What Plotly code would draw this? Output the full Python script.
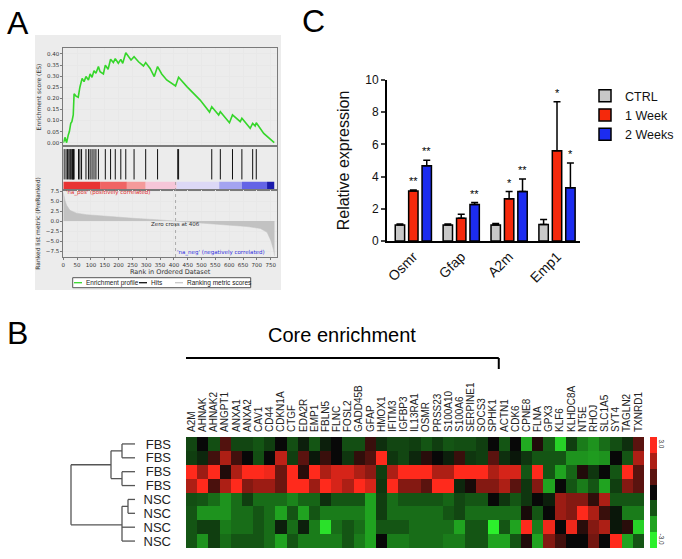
import plotly.graph_objects as go

W, H = 682, 559

# ---------------- panel A: GSEA enrichment plot ----------------
es_rank = [0, 2, 6, 12, 18, 22, 27, 31, 36, 39, 46, 54, 60, 68, 75, 82, 91, 97, 104, 111, 118,
           127, 133, 145, 152, 162, 171, 181, 188, 199, 208, 215, 226, 236, 245, 256, 272, 290,
           298, 314, 329, 341, 356, 374, 406, 417, 447, 495, 529, 537, 550, 562, 568, 601, 612,
           640, 646, 676, 685, 694, 698, 725, 763]
es_score = [0.0, 0.005, 0.024, 0.0, 0.035, 0.05, 0.087, 0.095, 0.125, 0.22, 0.21, 0.205, 0.25,
            0.29, 0.275, 0.298, 0.283, 0.31, 0.295, 0.325, 0.313, 0.343, 0.32, 0.31, 0.35, 0.331,
            0.376, 0.361, 0.379, 0.358, 0.376, 0.358, 0.406, 0.391, 0.373, 0.388, 0.365, 0.346,
            0.361, 0.335, 0.298, 0.343, 0.31, 0.283, 0.256, 0.295, 0.253, 0.192, 0.138, 0.162,
            0.14, 0.125, 0.14, 0.09, 0.125, 0.095, 0.11, 0.065, 0.087, 0.075, 0.09, 0.042, 0.0]
hit_ranks = [3, 10, 15, 20, 24, 27, 31, 33, 35, 37, 39, 55, 60, 66, 82, 91, 97, 104, 111, 118,
             127, 152, 171, 188, 208, 226, 256, 298, 341, 414, 417, 537, 568, 612, 646, 685, 698]
metric_rank = [0, 2, 6, 12, 24, 48, 85, 133, 193, 254, 338, 406, 447, 519, 592, 664, 713, 737,
               751, 757, 761, 764]
metric_score = [7.2, 6.5, 5.2, 4.0, 2.7, 2.0, 1.6, 1.35, 1.0, 0.7, 0.35, 0.0, -0.35, -0.7, -1.0,
                -1.35, -1.85, -2.8, -4.9, -6.2, -7.4, -8.7]
band_edges = [0, 133, 230, 298, 410, 564, 646, 737, 763]
band_colors = ['#e83434', '#f06464', '#f49a9a', '#f6c6d8', '#dcd8f6', '#a4a4f0', '#6464e6', '#1c1cac']
zero_cross = 406
legend_a_names = ['Enrichment profile', 'Hits', 'Ranking metric scores']
legend_a_colors = ['#35d62a', '#111111', '#c8c8c8']

# ---------------- panel C: qPCR bars ----------------
genes_c = ['Osmr', 'Gfap', 'A2m', 'Emp1']
ctrl_mean = [1.0, 1.0, 1.0, 1.02]
ctrl_err = [0.05, 0.06, 0.08, 0.32]
wk1_mean = [3.1, 1.42, 2.62, 5.6]
wk1_err = [0.06, 0.24, 0.45, 3.05]
wk2_mean = [4.67, 2.27, 3.08, 3.3]
wk2_err = [0.35, 0.12, 0.77, 1.55]
ctrl_sig = ['', '', '', '']
wk1_sig = ['**', '', '*', '*']
wk2_sig = ['**', '**', '**', '*']

# ---------------- panel B: heatmap ----------------
heat_genes = ['A2M', 'AHNAK', 'AHNAK2', 'ANGPT1', 'ANXA1', 'ANXA2', 'CAV1', 'CD44', 'CDKN1A',
              'CTGF', 'EDA2R', 'EMP1', 'FBLN5', 'FLNC', 'FOSL2', 'GADD45B', 'GFAP', 'HMOX1',
              'IFITM3', 'IGFBP3', 'IL13RA1', 'OSMR', 'PRSS23', 'S100A10', 'S100A6', 'SERPINE1',
              'SOCS3', 'SPHK1', 'ACTN1', 'CDK6', 'CPNE8', 'FLNA', 'GPX3', 'KLF6', 'KLHDC8A',
              'NT5E', 'RHOJ', 'SLC1A5', 'SYT4', 'TAGLN2', 'TXNRD1']
core_count = 28
row_labels = ['FBS', 'FBS', 'FBS', 'FBS', 'NSC', 'NSC', 'NSC', 'NSC']
fbs_1 = [-0.8, 0, -0.9, 0.9, -0.8, -0.8, -1.0, -0.7, 0, -0.9, -0.3, -1.0, -0.3, 0,
         -0.9, -0.9, 0.6, -0.5, -0.8, -0.8, -0.7, -1.0, -0.7, -1.0, -0.9, -0.9, -0.7, 0,
         -1.0, 0, -2.1, 0.3, -1.1, -2.6, -0.7, -1.5, -1.8, -1.3, -0.9, -0.5, 1.0]
fbs_2 = [-0.7, -0.4, 0.7, 2.0, 0.7, 0, -0.9, 0, 2.2, -0.7, 1.0, -0.2, 0.6, 0,
         -0.6, 0.5, 0.9, 3.0, -0.6, -0.8, -0.4, 0.4, 0, -0.3, 0.6, -0.6, -0.7, 1.0,
         -0.5, -0.2, -0.6, -1.0, -1.0, -1.0, -1.8, -1.8, -1.9, -1.8, 0, -1.0, 2.0]
fbs_3 = [3.0, 1.8, 3.0, 0.3, 2.0, 3.0, 3.0, 2.8, 1.2, 3.0, 0.4, 3.0, 2.0, 2.5,
         2.5, 2.0, 1.6, -0.7, 2.0, 3.0, 3.0, 3.0, 2.0, 2.0, 3.0, 3.0, 3.0, 2.0,
         2.5, 2.5, -1.0, 3.0, -1.0, -2.0, -1.2, 0.3, -0.6, 0, -1.0, 3.0, 1.0]
fbs_4 = [2.0, 3.0, 0.8, 2.0, 3.0, 1.5, 1.8, 1.8, 1.2, 3.0, 3.0, 1.8, 3.0, 2.5,
         2.0, 3.0, 2.5, -0.6, 3.0, 1.5, 1.5, 1.0, 3.0, 3.0, -0.4, 0.2, 1.5, 1.5,
         2.0, 1.0, -0.6, 1.5, -2.0, 0, -1.0, -1.5, -1.0, -2.0, -0.7, 1.5, 1.0]
nsc_1 = [-0.9, -1.0, -1.3, -1.8, -1.3, -0.7, -1.3, -1.3, -1.3, -1.6, -1.2, -1.2, -0.5, -1.0,
         -1.0, -1.0, -2.0, -0.7, -1.3, -1.0, -1.0, -1.0, -1.0, -1.2, -0.8, -1.0, -1.0, 0,
         -0.6, -1.0, -0.6, 0, -0.3, 1.8, 1.5, 1.5, 0.5, 2.0, -1.0, -1.0, -1.0]
nsc_2 = [-1.0, -1.8, -1.8, -1.8, -1.3, -1.3, -1.0, -1.3, -2.0, -1.0, -2.0, -1.0, -1.5, -1.5,
         -1.5, -1.5, -2.0, -0.7, -1.3, -1.3, -1.3, -1.3, -1.3, -1.0, -0.8, -1.3, -1.3, -1.3,
         -1.3, -1.3, 0.2, -1.0, 0, 1.8, 1.5, 3.0, 2.0, 0.6, -0.2, -1.5, -1.5]
nsc_3 = [-1.0, -0.7, -0.7, -1.5, -1.3, -1.3, -1.0, -1.3, -0.3, -1.3, -0.3, -1.5, -2.8, -1.3,
         -1.0, -1.3, -2.0, -1.0, -1.0, -1.0, -1.3, -1.3, -1.3, -1.3, -2.0, -1.0, -1.0, -3.0,
         -1.0, -2.0, 3.0, -1.5, 2.8, 0, 2.8, 0.4, 1.5, 2.0, -0.2, 0.4, -2.6]
nsc_4 = [-1.0, -1.8, -0.7, -1.3, -1.0, -1.0, -1.0, -1.3, -2.0, -1.0, -1.5, -1.5, -1.5, -1.5,
         -1.0, -1.5, -2.0, 0, -1.5, -1.5, -1.3, -1.3, -1.3, -1.5, -1.5, -1.0, -1.0, -2.0,
         -2.0, -1.0, 0.3, -2.0, 1.5, 0.7, 0, 0, 1.3, 0, 3.0, -2.0, -1.0]
cbar_levels = [3, 2, 1, 0, -1, -2, -3]
# dendrogram merges: (node, children, height)
dend_merges = [
    ('f12', ['r0', 'r1'], 13),
    ('f34', ['r2', 'r3'], 13),
    ('fbs', ['f12', 'f34'], 24),
    ('n12', ['r4', 'r5'], 7),
    ('nsc', ['n12', 'r6', 'r7'], 13),
    ('root', ['fbs', 'nsc'], 64),
]


def px(x):
    return x / W


def py(y):
    return 1 - y / H


GSEA_FONT = 'DejaVu Sans'
ARIAL = 'Liberation Sans, Arial'
heat_scale = [[0, '#2cf02c'], [0.5, '#080808'], [1, '#ff2a1c']]

fig = go.Figure()

# --- A
fig.add_trace(go.Scatter(x=es_rank, y=es_score, mode='lines', name=legend_a_names[0],
                         line=dict(color=legend_a_colors[0], width=1.6), showlegend=False,
                         xaxis='x', yaxis='y'))
hx, hy = [], []
for r in hit_ranks:
    hx += [r, r, None]
    hy += [0.24, 0.93, None]
fig.add_trace(go.Scatter(x=hx, y=hy, mode='lines', name=legend_a_names[1],
                         line=dict(color=legend_a_colors[1], width=1), showlegend=False,
                         xaxis='x2', yaxis='y2'))
fig.add_trace(go.Bar(orientation='h', y=[0.095] * len(band_colors),
                     x=[b - a for a, b in zip(band_edges[:-1], band_edges[1:])],
                     base=band_edges[:-1], width=0.19, marker=dict(color=band_colors, line_width=0),
                     showlegend=False, hoverinfo='skip', xaxis='x2', yaxis='y2'))
fig.add_trace(go.Scatter(x=metric_rank, y=metric_score, mode='lines', fill='tozeroy',
                         fillcolor='#c2c2c2', line=dict(color='#c2c2c2', width=0.5),
                         name=legend_a_names[2], showlegend=False, xaxis='x3', yaxis='y3'))

# --- C
for name, m, e, color in [('CTRL', ctrl_mean, ctrl_err, '#c8c8c8'),
                          ('1 Week', wk1_mean, wk1_err, '#f5290c'),
                          ('2 Weeks', wk2_mean, wk2_err, '#1c2cf0')]:
    fig.add_trace(go.Bar(x=genes_c, y=m, name=name,
                         marker=dict(color=color, line=dict(color='black', width=1.5)),
                         error_y=dict(type='data', array=e, arrayminus=[0] * len(e), symmetric=False,
                                      color='black', thickness=1.5, width=3.5),
                         xaxis='x4', yaxis='y4'))

bargap = 0.16
slot = (1 - bargap) / 3
annotations = []
for k, (m, e, sig) in enumerate([(ctrl_mean, ctrl_err, ctrl_sig), (wk1_mean, wk1_err, wk1_sig),
                                 (wk2_mean, wk2_err, wk2_sig)]):
    for i in range(len(genes_c)):
        if sig[i]:
            annotations.append(dict(x=i + (k - 1) * slot, y=m[i] + e[i], xref='x4', yref='y4',
                                    text=sig[i], showarrow=False, yanchor='bottom', yshift=1,
                                    font=dict(family=ARIAL, size=11, color='black')))

# --- B
fig.add_trace(go.Heatmap(z=[fbs_1, fbs_2, fbs_3, fbs_4, nsc_1, nsc_2, nsc_3, nsc_4],
                         x=list(range(len(heat_genes))), y=list(range(len(row_labels))),
                         colorscale=heat_scale, zmin=-3, zmax=3, showscale=False,
                         xaxis='x5', yaxis='y5'))
fig.add_trace(go.Heatmap(z=[[v] for v in cbar_levels], x=[0], y=cbar_levels,
                         colorscale=heat_scale, zmin=-3, zmax=3, showscale=False,
                         xaxis='x7', yaxis='y7'))

pos = {f'r{i}': (i, 0) for i in range(len(row_labels))}
dx, dy = [], []
for node, kids, h in dend_merges:
    ys = [pos[c][0] for c in kids]
    for c in kids:
        cy, ch = pos[c]
        dx += [ch, h, None]
        dy += [cy, cy, None]
    dx += [h, h, None]
    dy += [min(ys), max(ys), None]
    pos[node] = (sum(ys) / len(ys), h)
fig.add_trace(go.Scatter(x=dx, y=dy, mode='lines', line=dict(color='#555555', width=1.3),
                         showlegend=False, hoverinfo='skip', xaxis='x6', yaxis='y6'))

# --- text
annotations += [
    dict(x=px(5), y=py(3), xref='paper', yref='paper', text='A', showarrow=False,
         xanchor='left', yanchor='top', font=dict(family=ARIAL, size=32, color='black')),
    dict(x=px(5), y=py(313), xref='paper', yref='paper', text='B', showarrow=False,
         xanchor='left', yanchor='top', font=dict(family=ARIAL, size=32, color='black')),
    dict(x=px(300), y=py(1), xref='paper', yref='paper', text='C', showarrow=False,
         xanchor='left', yanchor='top', font=dict(family=ARIAL, size=32, color='black')),
    dict(x=(core_count - 1) / 2, y=py(335), xref='x5', yref='paper', text='Core enrichment',
         showarrow=False, yanchor='middle', font=dict(family=ARIAL, size=20, color='black')),
    dict(x=2, y=7.1, xref='x3', yref='y3', text="'na_pos' (positively correlated)", showarrow=False,
         xanchor='left', yanchor='middle', font=dict(family=GSEA_FONT, size=5.5, color='#e03030')),
    dict(x=zero_cross, y=-0.6, xref='x3', yref='y3', text='Zero cross at %d' % zero_cross,
         showarrow=False, xanchor='center', yanchor='middle',
         font=dict(family=GSEA_FONT, size=5.5, color='#333333')),
    dict(x=zero_cross - 2, y=-7.9, xref='x3', yref='y3', text="'na_neg' (negatively correlated)",
         showarrow=False, xanchor='left', yanchor='middle',
         font=dict(family=GSEA_FONT, size=5.5, color='#3030e0')),
]

shapes = [
    dict(type='rect', xref='paper', yref='paper', x0=px(35), x1=px(281), y0=py(290), y1=py(35),
         fillcolor='#ececec', line_width=0, layer='below'),
    dict(type='line', xref='x3', yref='paper', x0=zero_cross, x1=zero_cross, y0=py(257), y1=py(181),
         line=dict(color='#9a9a9a', width=0.8, dash='dot')),
    dict(type='line', xref='x5', yref='paper', x0=-0.65, x1=core_count - 0.5, y0=py(358), y1=py(358),
         line=dict(color='black', width=2)),
    dict(type='line', xref='x5', yref='paper', x0=-0.65, x1=-0.65, y0=py(358), y1=py(369),
         line=dict(color='black', width=2)),
    dict(type='line', xref='x5', yref='paper', x0=core_count - 0.5, x1=core_count - 0.5,
         y0=py(358), y1=py(369), line=dict(color='black', width=2)),
]

# small legend box of the GSEA panel
leg_box = (72.7, 250.7, 277.7, 287.7)
leg_items = [(74, 84), (139, 149), (175, 185)]
shapes.append(dict(type='rect', xref='paper', yref='paper', x0=px(leg_box[0]), x1=px(leg_box[1]),
                   y0=py(leg_box[3]), y1=py(leg_box[2]), fillcolor='white',
                   line=dict(color='#555555', width=1)))
ly = (leg_box[2] + leg_box[3]) / 2
for (lx, tx), name, color in zip(leg_items, legend_a_names, legend_a_colors):
    shapes.append(dict(type='line', xref='paper', yref='paper', x0=px(lx), x1=px(lx + 8),
                       y0=py(ly), y1=py(ly), line=dict(color=color, width=1.3)))
    annotations.append(dict(x=px(tx), y=py(ly), xref='paper', yref='paper', text=name,
                            showarrow=False, xanchor='left', yanchor='middle',
                            font=dict(family=ARIAL, size=6.5, color='#222222')))

gsea_tick = dict(family=GSEA_FONT, size=5.5, color='#333333')
frame = dict(showline=True, mirror=True, linecolor='#7a7a7a', linewidth=1)
x_dom_a = [px(63.3), px(277)]
x_rng_a = [0, 773]

fig.update_layout(
    width=W, height=H, margin=dict(l=0, r=0, t=0, b=0),
    paper_bgcolor='white', plot_bgcolor='white',
    barmode='group', bargap=bargap, bargroupgap=0.3,
    font=dict(family=ARIAL, color='black'),
    annotations=annotations, shapes=shapes,
    xaxis=dict(domain=x_dom_a, range=x_rng_a, anchor='y', showticklabels=False, ticks='',
               gridcolor='#e8e8e8', dtick=50, zeroline=False, **frame),
    yaxis=dict(domain=[py(146), py(48)], range=[-0.015, 0.427], anchor='x', dtick=0.05, tick0=0,
               tickformat='.2f', tickfont=gsea_tick, gridcolor='#e8e8e8', zeroline=False,
               ticks='outside', ticklen=2, tickcolor='#7a7a7a',
               title=dict(text='Enrichment score (ES)', font=dict(family=GSEA_FONT, size=6, color='#333'),
                          standoff=4), **frame),
    xaxis2=dict(domain=x_dom_a, range=x_rng_a, anchor='y2', showticklabels=False, showgrid=False,
                zeroline=False, **frame),
    yaxis2=dict(domain=[py(190), py(146)], range=[0, 1], anchor='x2', showticklabels=False,
                showgrid=False, zeroline=False, **frame),
    xaxis3=dict(domain=x_dom_a, range=x_rng_a, anchor='y3', dtick=50, tick0=0, tickfont=gsea_tick,
                gridcolor='#e8e8e8', zeroline=False, ticks='outside', ticklen=2, tickcolor='#7a7a7a',
                title=dict(text='Rank in Ordered Dataset', font=dict(family=GSEA_FONT, size=6.5, color='#333'),
                           standoff=1), **frame),
    yaxis3=dict(domain=[py(257), py(190)], range=[-9.0, 7.8], anchor='x3',
                tickvals=[-7.5, -5, -2.5, 0, 2.5, 5, 7.5],
                tickformat='.1f', tickfont=gsea_tick, gridcolor='#e8e8e8', zeroline=False,
                ticks='outside', ticklen=2, tickcolor='#7a7a7a',
                title=dict(text='Ranked list metric (PreRanked)', font=dict(family=GSEA_FONT, size=6, color='#333'),
                           standoff=4), **frame),
    xaxis4=dict(domain=[px(387), px(580)], range=[-0.55, 3.48], anchor='y4', type='category',
                showline=True, linecolor='black', linewidth=2, ticks='', tickangle=-45,
                tickfont=dict(family=ARIAL, size=14, color='#111'), showgrid=False, zeroline=False),
    yaxis4=dict(domain=[py(241), py(80)], range=[0, 10], anchor='x4', tickvals=[0, 2, 4, 6, 8, 10],
                showline=True, linecolor='black', linewidth=2, ticks='outside', ticklen=4, tickwidth=2,
                tickfont=dict(family=ARIAL, size=12, color='#111'), showgrid=False, zeroline=False,
                title=dict(text='Relative expression', font=dict(family=ARIAL, size=16, color='#111'),
                           standoff=12)),
    xaxis5=dict(domain=[px(186), px(644)], range=[-0.5, len(heat_genes) - 0.5], anchor='y5', side='top',
                tickvals=list(range(len(heat_genes))), ticktext=heat_genes, tickangle=-90, ticks='',
                ticklabelstandoff=4, tickfont=dict(family=ARIAL, size=10, color='#222'),
                showgrid=False, zeroline=False, showline=False),
    yaxis5=dict(domain=[py(548), py(437)], range=[len(row_labels) - 0.5, -0.5], anchor='x5',
                tickvals=list(range(len(row_labels))), ticktext=row_labels, ticks='',
                ticklabelstandoff=14, tickfont=dict(family=ARIAL, size=13, color='#222'),
                showgrid=False, zeroline=False, showline=False),
    xaxis6=dict(domain=[px(69), px(135)], range=[66, 0], anchor='y6', visible=False),
    yaxis6=dict(domain=[py(548), py(437)], range=[len(row_labels) - 0.5, -0.5], anchor='x6', visible=False),
    xaxis7=dict(domain=[px(650), px(657)], range=[-0.5, 0.5], anchor='y7', visible=False),
    yaxis7=dict(domain=[py(548), py(437)], range=[-3.5, 3.5], anchor='x7', side='right',
                tickvals=[3, -3], ticktext=['3.0', '-3.0'], tickangle=90, ticks='',
                tickfont=dict(family=ARIAL, size=6.5, color='#333'), showgrid=False,
                zeroline=False, showline=False),
    legend=dict(x=px(585), y=py(81), xanchor='left', yanchor='top', tracegroupgap=0,
                font=dict(family=ARIAL, size=12.5, color='#111'), bgcolor='rgba(0,0,0,0)'),
)
fig.update_xaxes(automargin=False)
fig.update_yaxes(automargin=False)

fig.write_html("out.html", config={'displayModeBar': False},
               post_script="document.body.style.margin='0';")
